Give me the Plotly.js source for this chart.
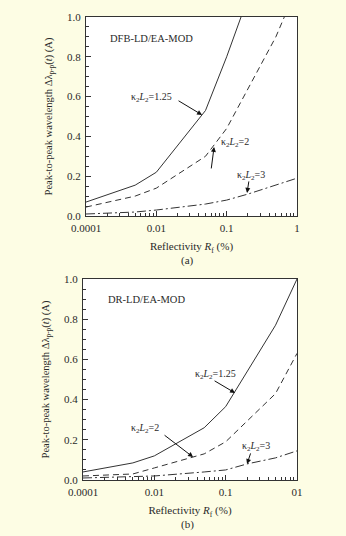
<!DOCTYPE html>
<html><head><meta charset="utf-8">
<script src="https://cdn.plot.ly/plotly-3.0.1.min.js"></script>
<style>html,body{margin:0;padding:0;background:#FDFDE4;}#c{width:346px;height:536px;}</style>
</head><body><div id="c"></div>
<script>
// Reflectivity (%) -- axis labelled 0.0001, 0.01, 0.1, 1 at equal decade spacing
const tickVals = [0.001, 0.01, 0.1, 1];
const tickTextA = ["0.0001", "0.01", "0.1", "1"];
const tickTextB = ["0.0001", "0.01", "0.1", "01"];

// (a) DFB-LD/EA-MOD
const aX125 = [0.001, 0.005, 0.01, 0.05, 0.1, 0.16];
const aY125 = [0.07, 0.155, 0.22, 0.53, 0.80, 1.0];
const aX2 = [0.001, 0.005, 0.01, 0.05, 0.1, 0.5, 0.66];
const aY2 = [0.045, 0.10, 0.14, 0.30, 0.44, 0.90, 1.0];
const aX3 = [0.001, 0.005, 0.01, 0.05, 0.1, 0.2, 1];
const aY3 = [0.01, 0.02, 0.03, 0.06, 0.08, 0.11, 0.19];

// (b) DR-LD/EA-MOD
const bX125 = [0.001, 0.005, 0.01, 0.05, 0.1, 0.5, 1];
const bY125 = [0.04, 0.085, 0.12, 0.26, 0.365, 0.77, 1.0];
const bX2 = [0.001, 0.005, 0.01, 0.05, 0.1, 0.5, 1];
const bY2 = [0.02, 0.03, 0.06, 0.13, 0.19, 0.43, 0.63];
const bX3 = [0.001, 0.01, 0.05, 0.1, 0.2, 0.5, 1];
const bY3 = [0.01, 0.02, 0.04, 0.05, 0.08, 0.11, 0.145];

const lc = '#333333';
const tc = '#2a2a2a';
const serif = 'Liberation Serif, Times New Roman, serif';
const dashD = '6px,4px';
const dashDD = '9px,3px,2px,3px';

function tr(x, y, dash, xa, ya) {
  return {x: x, y: y, type: 'scatter', mode: 'lines', xaxis: xa, yaxis: ya,
    line: {color: lc, width: 1, dash: dash}, hoverinfo: 'skip', showlegend: false};
}
const data = [
  tr(aX125, aY125, 'solid', 'x', 'y'),
  tr(aX2, aY2, dashD, 'x', 'y'),
  tr(aX3, aY3, dashDD, 'x', 'y'),
  tr(bX125, bY125, 'solid', 'x2', 'y2'),
  tr(bX2, bY2, dashD, 'x2', 'y2'),
  tr(bX3, bY3, dashDD, 'x2', 'y2')
];

function xax(dom, txt, anchor) {
  return {type: 'log', domain: dom, range: [-3, 0], anchor: anchor,
    tickmode: 'array', tickvals: tickVals, ticktext: txt,
    ticks: 'inside', ticklen: 5, tickcolor: lc, showgrid: false, zeroline: false,
    showline: true, linecolor: lc, linewidth: 1, mirror: true,
    minor: {dtick: 'D1', ticks: 'inside', ticklen: 3, tickcolor: lc, showgrid: false},
    ticklabelstandoff: 2,
    tickfont: {family: serif, size: 11, color: tc},
    title: {text: 'Reflectivity <i>R</i><sub>f</sub> (%)', font: {family: serif, size: 11, color: tc}, standoff: 9}};
}
function yax(dom, anchor) {
  return {domain: dom, range: [0, 1], anchor: anchor, dtick: 0.2, tickformat: '.1f',
    ticks: 'inside', ticklen: 5, tickcolor: lc, showgrid: false, zeroline: false,
    showline: true, linecolor: lc, linewidth: 1, mirror: true,
    minor: {dtick: 0.05, ticks: 'inside', ticklen: 3, tickcolor: lc, showgrid: false},
    ticklabelstandoff: 2,
    tickfont: {family: serif, size: 11, color: tc},
    title: {text: 'Peak-to-peak wavelength Δλ<sub>p-p</sub>(<i>t</i>) (A)', font: {family: serif, size: 10.5, color: tc}, standoff: 12}};
}
const k = (v) => 'κ<sub>2</sub><i>L</i><sub>2</sub>=' + v;
function lab(x, y, t, xr, yr, s) {
  return {x: x, y: y, xref: xr, yref: yr, text: t, showarrow: false,
    font: {family: serif, size: s || 10, color: tc}};
}
function arr(x, y, ax, ay, xr, yr) {
  return {x: x, y: y, xref: xr, yref: yr, text: '', showarrow: true, ax: ax, ay: ay,
    arrowhead: 2, arrowsize: 1, arrowwidth: 1, arrowcolor: '#111'};
}
const annotations = [
  lab(-2.075, 0.894, 'DFB-LD/EA-MOD', 'x', 'y', 10.5),
  lab(-2.075, 0.593, k('1.25'), 'x', 'y'),
  lab(-0.88, 0.367, k('2'), 'x', 'y'),
  lab(-0.653, 0.206, k('3'), 'x', 'y'),
  arr(-1.35, 0.508, -25, -15, 'x', 'y'),
  arr(-1.179, 0.347, -3, 23, 'x', 'y'),
  arr(-0.71, 0.116, 2, -13, 'x', 'y'),
  lab(-2.116, 0.896, 'DR-LD/EA-MOD', 'x2', 'y2', 10.5),
  lab(-1.149, 0.527, k('1.25'), 'x2', 'y2'),
  lab(-2.13, 0.254, k('2'), 'x2', 'y2'),
  lab(-0.574, 0.169, k('3'), 'x2', 'y2'),
  arr(-0.868, 0.433, -22, -13, 'x2', 'y2'),
  arr(-1.457, 0.114, -30, -23, 'x2', 'y2'),
  arr(-0.70, 0.08, 4, -12, 'x2', 'y2'),
  {x: 188 / 346, y: 1 - 260 / 536, xref: 'paper', yref: 'paper', xanchor: 'center', yanchor: 'middle', text: '(a)', showarrow: false, font: {family: serif, size: 11, color: tc}},
  {x: 188 / 346, y: 1 - 524 / 536, xref: 'paper', yref: 'paper', xanchor: 'center', yanchor: 'middle', text: '(b)', showarrow: false, font: {family: serif, size: 11, color: tc}}
];

const layout = {
  width: 346, height: 536,
  margin: {l: 0, r: 0, t: 0, b: 0},
  paper_bgcolor: '#FDFDE4', plot_bgcolor: '#FFFFFF',
  showlegend: false,
  xaxis: xax([86 / 346, 297 / 346], tickTextA, 'y'),
  yaxis: yax([1 - 216 / 536, 1 - 17 / 536], 'x'),
  xaxis2: xax([83 / 346, 297 / 346], tickTextB, 'y2'),
  yaxis2: yax([1 - 480 / 536, 1 - 279 / 536], 'x2'),
  annotations: annotations
};
Plotly.newPlot('c', data, layout, {displayModeBar: false, staticPlot: true});
</script></body></html>
